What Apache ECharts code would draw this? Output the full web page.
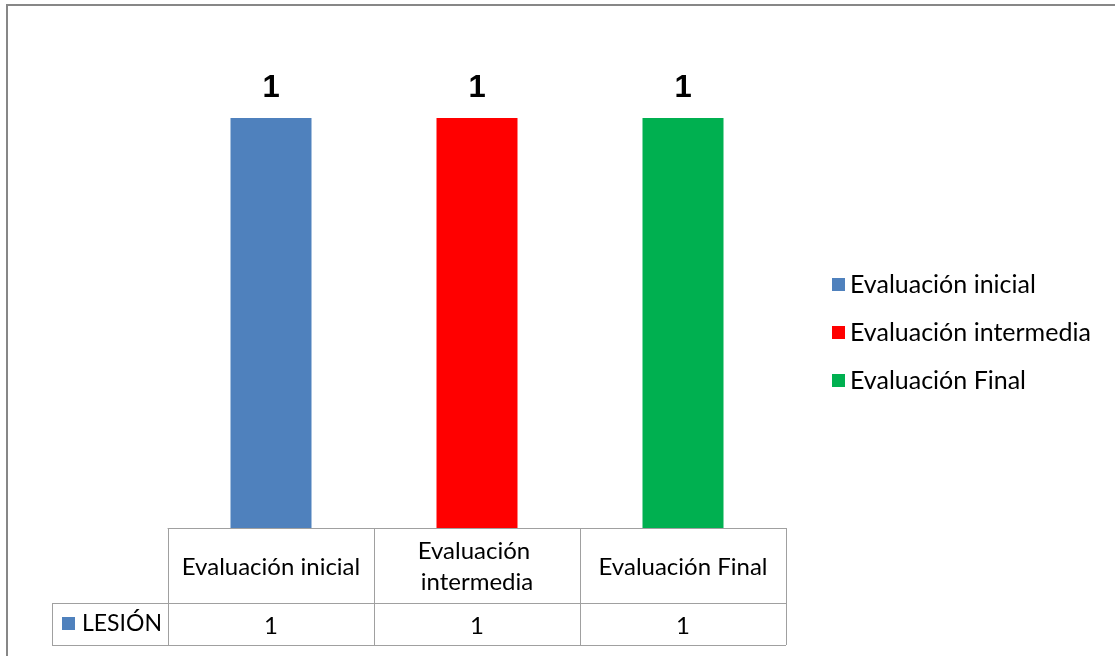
<!DOCTYPE html>
<html>
<head>
<meta charset="utf-8">
<script src="https://cdn.jsdelivr.net/npm/echarts@6/dist/echarts.min.js"></script>
<style>
  html, body { margin: 0; padding: 0; background: #fff; }
  #chart { width: 1115px; height: 656px; }
</style>
</head>
<body>
<div id="chart"></div>
<script>
// Categories, series values and colours
const categories = ['Evaluación inicial', 'Evaluación intermedia', 'Evaluación Final'];
const lesion = [1, 1, 1];
const rowName = 'LESIÓN';
const colors = ['#4f81bd', '#ff0000', '#00b050'];

const FONT = 'Lato';
const GRID = { left: 168, right: 329, top: 36, bottom: 128 };
const TABLE_LINE = '#a0a0a0';

const chart = echarts.init(document.getElementById('chart'));

// One series per evaluation, each filling only its own category, overlaid in place
const series = categories.map((name, i) => ({
  name: name,
  type: 'bar',
  barWidth: 81,
  barGap: '-100%',
  itemStyle: { color: colors[i] },
  label: {
    show: true,
    position: 'top',
    distance: 14,
    color: '#000',
    fontFamily: 'Liberation Sans',
    fontWeight: 'bold',
    fontSize: 31
  },
  data: lesion.map((v, j) => (j === i ? v : '-'))
}));

chart.setOption({
  animation: false,
  backgroundColor: '#fff',
  grid: GRID,
  legend: {
    orient: 'vertical',
    left: 832,
    top: 272,
    padding: 0,
    icon: 'rect',
    itemWidth: 13,
    itemHeight: 13,
    itemGap: 23,
    selectedMode: false,
    textStyle: { fontFamily: FONT, fontSize: 25, color: '#000', lineHeight: 25 },
    data: categories
  },
  xAxis: [
    {
      // header row of the data table
      type: 'category',
      data: categories,
      axisLine: { show: true, lineStyle: { color: TABLE_LINE, width: 1 } },
      axisTick: { show: true, interval: 0, length: 117, lineStyle: { color: TABLE_LINE, width: 1 } },
      axisLabel: {
        interval: 0,
        margin: 39,
        verticalAlign: 'middle',
        width: 196,
        overflow: 'break',
        lineHeight: 31,
        fontFamily: FONT,
        fontSize: 24,
        color: '#000'
      }
    },
    {
      // value row of the data table
      type: 'category',
      position: 'bottom',
      data: categories,
      axisLine: { show: false },
      axisTick: { show: false },
      axisLabel: {
        interval: 0,
        margin: 98,
        verticalAlign: 'middle',
        fontFamily: FONT,
        fontSize: 24,
        color: '#000',
        formatter: (v, idx) => String(lesion[idx])
      }
    }
  ],
  yAxis: {
    type: 'value',
    min: 0,
    max: 1.2,
    show: false,
    splitLine: { show: false }
  },
  series: series
});

// Data table frame and the outer chart border
const gridBottom = 656 - GRID.bottom;
const tableRight = 1115 - GRID.right;
const rowTop = gridBottom + 75;
const rowBottom = gridBottom + 117;
const rowLeft = 52;
chart.setOption({
  graphic: [
    { type: 'rect', shape: { x: 7, y: 5, width: 1120, height: 670 },
      style: { fill: null, stroke: '#878787', lineWidth: 2 }, silent: true },
    { type: 'line', shape: { x1: rowLeft, y1: rowTop + 0.5, x2: tableRight, y2: rowTop + 0.5 },
      style: { stroke: TABLE_LINE, lineWidth: 1 } },
    { type: 'line', shape: { x1: rowLeft, y1: rowBottom + 0.5, x2: tableRight, y2: rowBottom + 0.5 },
      style: { stroke: TABLE_LINE, lineWidth: 1 } },
    { type: 'line', shape: { x1: rowLeft + 0.5, y1: rowTop, x2: rowLeft + 0.5, y2: rowBottom },
      style: { stroke: TABLE_LINE, lineWidth: 1 } },
    { type: 'rect', shape: { x: 62, y: (rowTop + rowBottom) / 2 - 7, width: 13, height: 13 },
      style: { fill: colors[0] } },
    { type: 'text', x: 82, y: (rowTop + rowBottom) / 2,
      style: { text: rowName, fontFamily: FONT, fontSize: 23, fill: '#000', verticalAlign: 'middle' } }
  ]
});
</script>
</body>
</html>
